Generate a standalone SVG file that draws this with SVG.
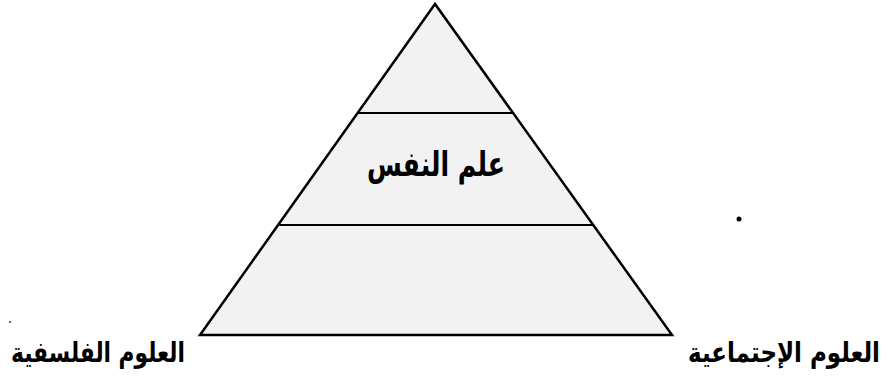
<svg xmlns="http://www.w3.org/2000/svg" width="895" height="379" viewBox="0 0 895 379">
<style>
.t{font-family:"DejaVu Sans",sans-serif;font-weight:bold;fill:#000}
.ln{stroke:#000;stroke-width:2;fill:none}
</style>
<rect width="895" height="379" fill="#fff"/>
<g id="pyramid">
<polygon points="435,4 200,335 672,335" fill="#f2f2f2" stroke="#000" stroke-width="2.5" stroke-linejoin="miter"/>
</g>
<g id="connectors">
<line class="ln" x1="357" y1="113" x2="513" y2="113"/>
<line class="ln" x1="278" y1="225" x2="593" y2="225"/>
</g>
<g id="node-psychology">
<text class="t" x="436" y="176" font-size="34" text-anchor="middle" textLength="138" lengthAdjust="spacingAndGlyphs">علم النفس</text>
</g>
<g id="node-philosophical">
<text class="t" x="98" y="362" font-size="28" text-anchor="middle" textLength="174" lengthAdjust="spacingAndGlyphs">العلوم الفلسفية</text>
</g>
<g id="node-social">
<text class="t" x="784" y="362" font-size="28" text-anchor="middle" textLength="192" lengthAdjust="spacingAndGlyphs">العلوم الإجتماعية</text>
</g>
<circle cx="739" cy="219" r="2.5" fill="#000"/>
<circle cx="10" cy="322" r="1" fill="#333"/>
</svg>
